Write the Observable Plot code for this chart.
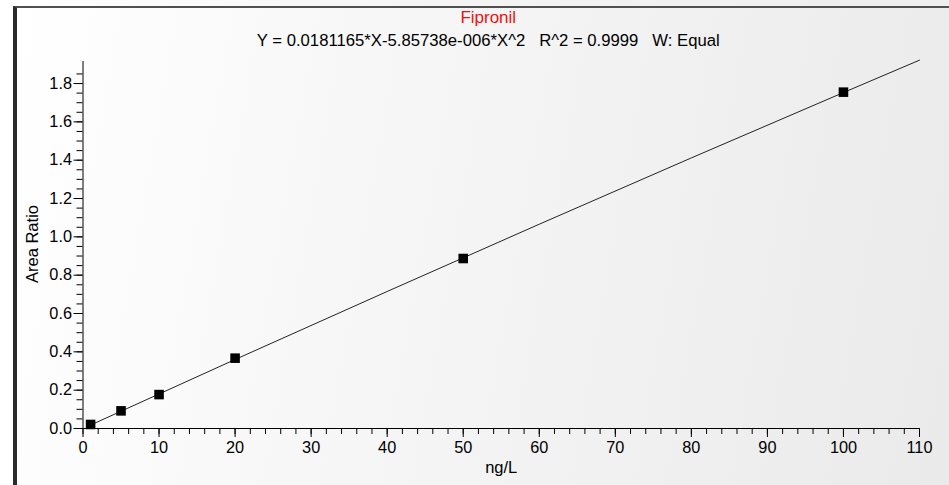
<!DOCTYPE html>
<html><head><meta charset="utf-8">
<script src="https://cdn.jsdelivr.net/npm/d3@7"></script>
<script src="https://cdn.jsdelivr.net/npm/@observablehq/plot@0.6"></script>
<style>
html,body{margin:0;padding:0;background:#fff;}
#wrap{position:relative;width:949px;height:485px;overflow:hidden;background:linear-gradient(90deg,#ffffff 0%,#f2f2f2 60%,#eeeeee 100%);}
#frame{position:absolute;left:13px;top:6px;width:936px;height:479px;box-sizing:border-box;border-left:4px solid #2b2b2b;border-top:2px solid #505050;background:linear-gradient(100deg,#ffffff 0%,#f6f6f6 40%,#eaeaea 100%);}
#chart{position:absolute;left:0;top:0;}
#chart text{white-space:pre;}
</style></head><body>
<div id="wrap"><div id="frame"></div><div id="chart"></div></div>
<script>
const title = "Fipronil";
const subtitle = "Y = 0.0181165*X-5.85738e-006*X^2   R^2 = 0.9999   W: Equal";
const xLabel = "ng/L";
const yLabel = "Area Ratio";
const concentrations = [1, 5, 10, 20, 50, 100];
const areaRatios = [0.021, 0.092, 0.177, 0.367, 0.887, 1.755];
const fitX = [1, 20, 40, 60, 80, 100, 110];
const fitY = [0.018, 0.360, 0.715, 1.066, 1.412, 1.753, 1.922];
const xTicks = [0, 10, 20, 30, 40, 50, 60, 70, 80, 90, 100, 110];
const yTicks = [0.0, 0.2, 0.4, 0.6, 0.8, 1.0, 1.2, 1.4, 1.6, 1.8];
const xMinor = d3.range(0, 111, 2);
const yMinor = d3.range(0, 38).map(i => i * 0.05);
const xDomain = [0, 110];
const yDomain = [0, 1.915];

const points = concentrations.map((x, i) => ({x, y: areaRatios[i]}));
const fit = fitX.map((x, i) => ({x, y: fitY[i]}));
const font = "'Liberation Sans', Arial, sans-serif";

const chart = Plot.plot({
  width: 949, height: 485,
  marginLeft: 82.5, marginRight: 30, marginTop: 61, marginBottom: 57,
  style: {background: "transparent", fontFamily: font, fontSize: "16.3px", color: "#000"},
  x: {domain: xDomain},
  y: {domain: yDomain},
  marks: [
    Plot.axisX({ticks: xMinor, tickSize: 6, tickFormat: () => "", label: null, stroke: "#000"}),
    Plot.axisX({ticks: xTicks, tickSize: 9, tickPadding: 4, tickFormat: d => String(d), label: null, stroke: "#000", fill: "#000"}),
    Plot.axisY({ticks: yMinor, tickSize: 6, tickFormat: () => "", label: null, stroke: "#000"}),
    Plot.axisY({ticks: yTicks, tickSize: 9, tickPadding: 2, tickFormat: d3.format(".1f"), label: null, stroke: "#000", fill: "#000"}),
    Plot.ruleX([0], {y1: yDomain[0], y2: yDomain[1], stroke: "#000"}),
    Plot.ruleY([0], {x1: xDomain[0], x2: xDomain[1], stroke: "#000"}),
    Plot.line(fit, {x: "x", y: "y", stroke: "#222", strokeWidth: 1}),
    Plot.dot(points, {x: "x", y: "y", symbol: "square", r: 5.4, fill: "#000", stroke: null}),
    Plot.text([title], {frameAnchor: "top", dx: -13, dy: -44, fill: "#ee1111", fontSize: 17, lineAnchor: "middle", textAnchor: "middle"}),
    Plot.text([subtitle], {frameAnchor: "top", dx: -13, dy: -21, fill: "#000", fontSize: 16.7, lineAnchor: "middle", textAnchor: "middle"}),
    Plot.text([yLabel], {frameAnchor: "left", dx: -50, dy: -1, rotate: -90, fill: "#000", fontSize: 16.5, lineAnchor: "middle", textAnchor: "middle"}),
    Plot.text([xLabel], {frameAnchor: "bottom", dy: 39, fill: "#000", fontSize: 16.5, lineAnchor: "middle", textAnchor: "middle"})
  ]
});
document.getElementById("chart").appendChild(chart);
</script>
</body></html>
